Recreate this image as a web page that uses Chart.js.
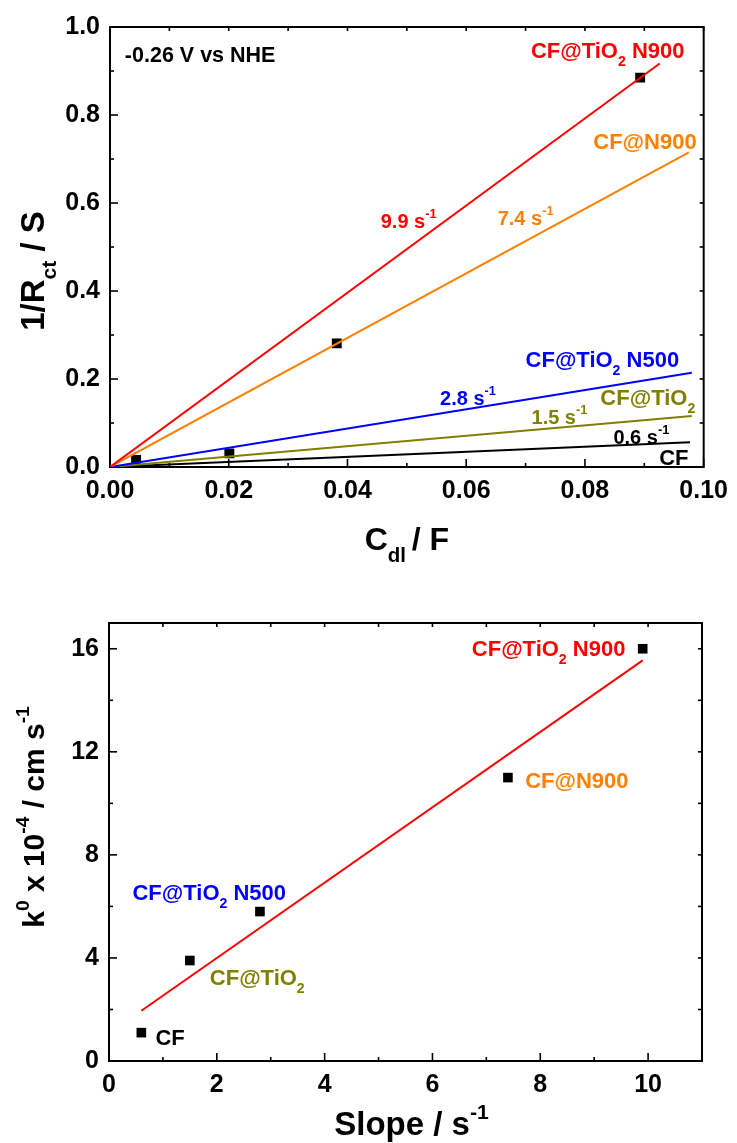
<!DOCTYPE html>
<html>
<head>
<meta charset="utf-8">
<script src="https://cdn.jsdelivr.net/npm/chart.js@4.4.1/dist/chart.umd.min.js"></script>
<style>
  html, body { margin: 0; padding: 0; background: #fff; }
  #wrap { position: relative; width: 737px; height: 1143px; overflow: hidden; background: #fff; }
  canvas { position: absolute; left: 0; }
  #c1 { top: 0; }
  #c2 { top: 580px; }
</style>
</head>
<body>
<div id="wrap">
  <canvas id="c1" width="737" height="580"></canvas>
  <canvas id="c2" width="737" height="563"></canvas>
</div>
<script>
// ---------- DATA ----------
// Top panel: 1/Rct vs Cdl
const cdlPoints    = [0.0044, 0.0201, 0.0382, 0.0893];
const invRctPoints = [0.016, 0.031, 0.281, 0.885];

const fitNames   = ['CF@TiO2 N900', 'CF@N900', 'CF@TiO2 N500', 'CF@TiO2', 'CF'];
const fitSlopes  = ['9.9', '7.4', '2.8', '1.5', '0.6'];
const fitStartX  = [0, 0, 0, 0, 0];
const fitStartY  = [0, 0, 0, 0, 0];
const fitEndX    = [0.0926, 0.0975, 0.0980, 0.0980, 0.0977];
const fitEndY    = [0.917, 0.715, 0.214, 0.116, 0.056];

const topXTicks  = [0, 0.02, 0.04, 0.06, 0.08, 0.10];
const topXMinor  = [0.01, 0.03, 0.05, 0.07, 0.09];
const topYTicks  = [0, 0.2, 0.4, 0.6, 0.8, 1.0];
const topYMinor  = [0.1, 0.3, 0.5, 0.7, 0.9];

// Bottom panel: k0 vs slope
const slopeValues = [0.6, 1.5, 2.8, 7.4, 9.9];
const k0Values    = [1.1, 3.9, 5.8, 11.0, 16.0];
const k0FitX      = [0.6, 9.9];
const k0FitY      = [1.95, 15.55];

const botXTicks = [0, 2, 4, 6, 8, 10];
const botXMinor = [1, 3, 5, 7, 9];
const botYTicks = [0, 4, 8, 12, 16];
const botYMinor = [2, 6, 10, 14];

// ---------- STYLES ----------
const FONT = '"Liberation Sans", Arial, Helvetica, sans-serif';
const seriesColors = ['#ff0000', '#ff8000', '#0000ff', '#808000', '#000000'];

function splitName(name) {
  const i = name.indexOf('TiO2');
  if (i < 0) return [[name]];
  const parts = [[name.slice(0, i + 3)], ['2', 'sub']];
  const rest = name.slice(i + 4);
  if (rest) parts.push([rest]);
  return parts;
}

function drawRich(ctx, parts, x, y, size, color, align) {
  const specs = parts.map(p => {
    const mode = p[1] || '';
    const s = mode ? size * 0.64 : size;
    const off = mode === 'sub' ? size * 0.36 : (mode === 'sup' ? -size * 0.5 : 0);
    return { t: p[0], s, off };
  });
  let w = 0;
  specs.forEach(sp => { ctx.font = `bold ${sp.s}px ${FONT}`; sp.w = ctx.measureText(sp.t).width; w += sp.w; });
  let cx = align === 'center' ? x - w / 2 : x;
  ctx.fillStyle = color;
  ctx.textBaseline = 'alphabetic';
  ctx.textAlign = 'left';
  specs.forEach(sp => {
    ctx.font = `bold ${sp.s}px ${FONT}`;
    ctx.fillText(sp.t, cx, y + sp.off);
    cx += sp.w;
  });
}

const framePlugin = {
  id: 'frame',
  beforeDatasetsDraw(chart, args, o) {
    const { ctx, chartArea: a, scales: { x, y } } = chart;
    ctx.save();
    ctx.strokeStyle = '#000';
    ctx.lineWidth = 1.6;
    const tick = (px, py, dx, dy) => { ctx.beginPath(); ctx.moveTo(px, py); ctx.lineTo(px + dx, py + dy); ctx.stroke(); };
    o.xMajor.forEach(v => { const p = x.getPixelForValue(v); tick(p, a.bottom, 0, -8); tick(p, a.top, 0, 4); });
    o.xMinor.forEach(v => { const p = x.getPixelForValue(v); tick(p, a.bottom, 0, -4); tick(p, a.top, 0, 4); });
    o.yMajor.forEach(v => { const p = y.getPixelForValue(v); tick(a.left, p, 8, 0); tick(a.right, p, -4, 0); });
    o.yMinor.forEach(v => { const p = y.getPixelForValue(v); tick(a.left, p, 4, 0); tick(a.right, p, -4, 0); });
    ctx.lineWidth = 2;
    ctx.strokeRect(a.left, a.top, a.right - a.left, a.bottom - a.top);
    ctx.restore();
  },
  afterDraw(chart, args, o) {
    const { ctx, chartArea: a, scales: { x, y } } = chart;
    ctx.save();
    (o.labels || []).forEach(l => {
      drawRich(ctx, l.parts, x.getPixelForValue(l.x), y.getPixelForValue(l.y), l.size, l.color, 'left');
    });
    drawRich(ctx, o.xTitle, (a.left + a.right) / 2 + (o.xTitleDX || 0), o.xTitleY, o.titleSize || 32, '#000', 'center');
    ctx.save();
    ctx.translate(o.yTitleX, o.yTitleCY);
    ctx.rotate(-Math.PI / 2);
    drawRich(ctx, o.yTitle, 0, 0, o.yTitleSize || 32, '#000', 'center');
    ctx.restore();
    ctx.restore();
  }
};

function tickFont() { return { family: FONT, size: 25, weight: 'bold' }; }

function makeScales(xr, yr, xTicks, yTicks, xDec, yDec, yWidth, xHeight) {
  return {
    x: {
      type: 'linear', position: 'bottom', min: xr[0], max: xr[1],
      grid: { display: false, drawTicks: false }, border: { display: false },
      afterBuildTicks: s => { s.ticks = xTicks.map(v => ({ value: v })); },
      afterFit: s => { s.height = xHeight; },
      ticks: { color: '#000', font: tickFont(), padding: 9, maxRotation: 0, autoSkip: false,
               callback: v => Number(v).toFixed(xDec) }
    },
    y: {
      type: 'linear', position: 'left', min: yr[0], max: yr[1],
      grid: { display: false, drawTicks: false }, border: { display: false },
      afterBuildTicks: s => { s.ticks = yTicks.map(v => ({ value: v })); },
      afterFit: s => { s.width = yWidth; },
      ticks: { color: '#000', font: tickFont(), padding: 10, autoSkip: false,
               callback: v => Number(v).toFixed(yDec) }
    }
  };
}

// ---------- TOP CHART ----------
const topLabelPos = [
  { x: 0.0709, y: 0.930 }, { x: 0.0814, y: 0.723 }, { x: 0.0700, y: 0.227 },
  { x: 0.0826, y: 0.141 }, { x: 0.0925, y: 0.005 }
];
const topSlopePos = [
  { x: 0.0456, y: 0.543 }, { x: 0.0653, y: 0.550 }, { x: 0.0556, y: 0.141 },
  { x: 0.0710, y: 0.098 }, { x: 0.0848, y: 0.052 }
];
const topLabels = [{ parts: [['-0.26 V vs NHE']], x: 0.0025, y: 0.920, size: 21.5, color: '#000' }];
fitNames.forEach((n, i) => {
  topLabels.push({ parts: splitName(n), x: topLabelPos[i].x, y: topLabelPos[i].y, size: 22, color: seriesColors[i] });
  topLabels.push({ parts: [[fitSlopes[i] + ' s'], ['-1', 'sup']], x: topSlopePos[i].x, y: topSlopePos[i].y, size: 20, color: seriesColors[i] });
});

new Chart(document.getElementById('c1'), {
  type: 'scatter',
  data: {
    datasets: [
      { label: 'data', data: cdlPoints.map((v, i) => ({ x: v, y: invRctPoints[i] })),
        pointStyle: 'rect', pointRadius: 7, pointBackgroundColor: '#000', pointBorderWidth: 0,
        showLine: false, order: 10 },
      ...fitNames.map((n, i) => ({
        label: n,
        data: [{ x: fitStartX[i], y: fitStartY[i] }, { x: fitEndX[i], y: fitEndY[i] }],
        showLine: true, pointRadius: 0, borderColor: seriesColors[i], borderWidth: 2, order: 1
      }))
    ]
  },
  options: {
    responsive: false, animation: false, devicePixelRatio: 1,
    layout: { padding: { top: 27, right: 30, left: 0, bottom: 0 } },
    scales: makeScales([0, 0.1], [0, 1], topXTicks, topYTicks, 2, 1, 110, 113),
    plugins: {
      legend: { display: false }, tooltip: { enabled: false },
      frame: {
        xMajor: topXTicks, xMinor: topXMinor, yMajor: topYTicks, yMinor: topYMinor,
        labels: topLabels,
        xTitle: [['C'], ['dl ', 'sub'], ['/ F']], xTitleY: 550,
        yTitle: [['1/R'], ['ct', 'sub'], [' / S']], yTitleX: 44, yTitleCY: 271, yTitleSize: 33
      }
    }
  },
  plugins: [framePlugin]
});

// ---------- BOTTOM CHART ----------
const botLabelPos = [
  { x: 0.862, y: 0.61 }, { x: 1.87, y: 2.95 }, { x: 0.435, y: 6.26 },
  { x: 7.72, y: 10.58 }, { x: 6.73, y: 15.70 }
];
const botNames = ['CF', 'CF@TiO2', 'CF@TiO2 N500', 'CF@N900', 'CF@TiO2 N900'];
const botColors = ['#000000', '#808000', '#0000ff', '#ff8000', '#ff0000'];
const botLabels = botNames.map((n, i) => ({
  parts: splitName(n), x: botLabelPos[i].x, y: botLabelPos[i].y, size: 22, color: botColors[i]
}));

new Chart(document.getElementById('c2'), {
  type: 'scatter',
  data: {
    datasets: [
      { label: 'k0', data: slopeValues.map((v, i) => ({ x: v, y: k0Values[i] })),
        pointStyle: 'rect', pointRadius: 6.8, pointBackgroundColor: '#000', pointBorderWidth: 0,
        showLine: false, order: 10 },
      { label: 'fit', data: k0FitX.map((v, i) => ({ x: v, y: k0FitY[i] })),
        showLine: true, pointRadius: 0, borderColor: '#ff0000', borderWidth: 2, order: 1 }
    ]
  },
  options: {
    responsive: false, animation: false, devicePixelRatio: 1,
    layout: { padding: { top: 43, right: 35, left: 0, bottom: 0 } },
    scales: makeScales([0, 11], [0, 17], botXTicks, botYTicks, 0, 0, 109, 82),
    plugins: {
      legend: { display: false }, tooltip: { enabled: false },
      frame: {
        xMajor: botXTicks, xMinor: botXMinor, yMajor: botYTicks, yMinor: botYMinor,
        labels: botLabels,
        xTitle: [['Slope / s'], ['-1', 'sup']], xTitleY: 555, titleSize: 33, xTitleDX: 6,
        yTitle: [['k'], ['0', 'sup'], [' x 10'], ['-4', 'sup'], [' / cm s'], ['-1', 'sup']],
        yTitleX: 44, yTitleCY: 237, yTitleSize: 30
      }
    }
  },
  plugins: [framePlugin]
});
</script>
</body>
</html>
